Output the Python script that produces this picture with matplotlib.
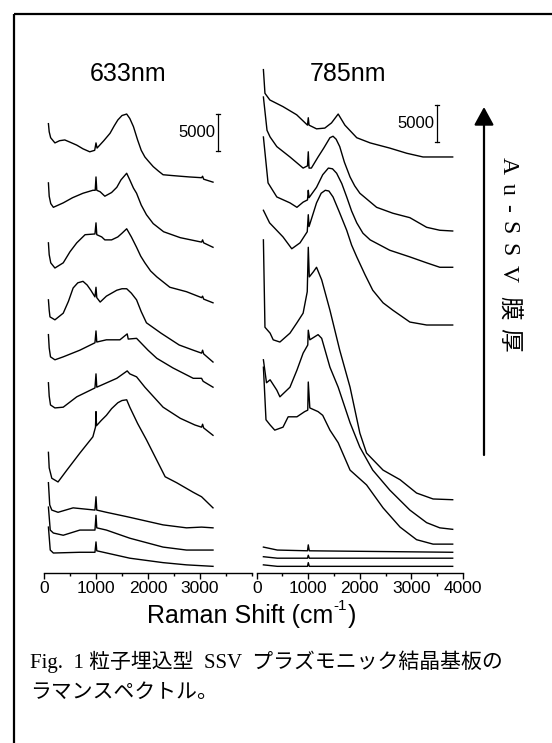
import matplotlib
matplotlib.use("Agg")
import matplotlib.pyplot as plt

plt.rcParams['font.family'] = ['Liberation Sans', 'DejaVu Sans']
plt.rcParams['mathtext.default'] = 'regular'

# ---------------- data (Raman shift in cm-1, intensity in kcounts incl. stacking offset) -------------
titles = ["633nm", "785nm"]
x_label_parts = ["Raman Shift (cm", "-1", ")"]
ticks_633 = [0, 1000, 2000, 3000]
ticks_785 = [0, 1000, 2000, 3000, 4000]
scale_label = "5000"

shift_633 = [
    [85, 100, 128, 210, 300, 400, 500, 630, 750, 880, 975, 1000, 1020, 1150, 1270, 1350, 1420, 1500, 1590, 1650, 1720, 1800, 1870, 1940, 2000, 2100, 2200, 2290, 2450, 2620, 2800, 3030, 3050, 3070, 3250],
    [85, 100, 130, 180, 370, 550, 750, 940, 985, 1000, 1015, 1080, 1170, 1300, 1400, 1480, 1590, 1650, 1720, 1780, 1870, 1970, 2100, 2300, 2620, 3030, 3050, 3070, 3250],
    [85, 100, 130, 210, 370, 500, 630, 790, 980, 1000, 1015, 1110, 1170, 1300, 1420, 1500, 1590, 1680, 1780, 1860, 1940, 2050, 2170, 2420, 2740, 3030, 3050, 3070, 3250],
    [85, 100, 115, 210, 370, 470, 560, 650, 750, 830, 900, 980, 1000, 1015, 1080, 1200, 1400, 1500, 1590, 1680, 1780, 1870, 1970, 2250, 2600, 2870, 3030, 3050, 3070, 3250],
    [85, 100, 125, 210, 370, 690, 980, 1000, 1015, 1200, 1460, 1600, 1620, 1780, 2000, 2170, 2480, 2870, 3030, 3060, 3250],
    [85, 100, 125, 210, 370, 630, 980, 1000, 1015, 1400, 1600, 1650, 1780, 1940, 2290, 2620, 2900, 3030, 3050, 3070, 3250],
    [85, 100, 150, 270, 440, 690, 940, 990, 1000, 1010, 1100, 1200, 1300, 1420, 1500, 1590, 1650, 1800, 1970, 2150, 2330, 2550, 2870, 3030, 3250],
    [85, 110, 150, 270, 560, 980, 1000, 1015, 1200, 1600, 2290, 2740, 3030, 3250],
    [85, 120, 180, 370, 690, 980, 1000, 1015, 1200, 1650, 2290, 2740, 3250],
    [85, 120, 180, 690, 980, 1000, 1015, 1650, 2290, 2740, 3250],
]
int_633 = [
    [60.7, 59.6, 58.8, 58.1, 58.4, 58.5, 58.2, 57.8, 57.3, 56.9, 57.1, 58.1, 57.4, 58.4, 59.4, 60.4, 61.2, 61.8, 62.0, 61.4, 60.3, 58.5, 57.1, 56.2, 55.7, 54.9, 54.3, 53.8, 53.7, 53.6, 53.5, 53.4, 53.6, 53.2, 52.8],
    [52.7, 50.9, 49.9, 49.4, 50.0, 50.7, 51.3, 51.7, 51.7, 53.5, 51.7, 51.5, 50.9, 51.4, 52.1, 53.1, 54.0, 53.1, 52.0, 51.3, 49.7, 48.4, 47.2, 46.1, 45.3, 44.7, 45.0, 44.6, 44.0],
    [44.6, 43.0, 41.9, 41.2, 41.9, 43.4, 44.6, 45.7, 45.8, 47.3, 45.7, 45.4, 45.0, 45.0, 45.4, 45.9, 46.5, 45.4, 44.0, 42.8, 41.9, 40.8, 40.0, 38.6, 38.0, 37.2, 37.4, 37.0, 36.5],
    [36.9, 35.5, 34.6, 34.2, 35.1, 36.7, 38.5, 39.2, 39.4, 38.9, 38.2, 37.3, 38.6, 37.2, 36.6, 37.4, 38.2, 38.4, 38.4, 37.8, 36.9, 35.3, 33.8, 32.4, 30.8, 30.1, 29.7, 30.1, 29.6, 28.5],
    [32.2, 30.4, 29.2, 28.8, 29.2, 30.1, 31.1, 32.7, 31.2, 31.5, 31.5, 32.3, 31.6, 31.7, 30.1, 29.0, 27.7, 26.3, 26.3, 25.9, 25.1],
    [25.7, 23.9, 22.7, 22.3, 22.4, 23.8, 25.0, 26.9, 25.1, 26.3, 27.3, 26.9, 26.5, 25.1, 22.4, 20.9, 20.0, 19.7, 20.1, 19.6, 18.6],
    [16.3, 14.2, 12.8, 12.3, 13.9, 16.2, 18.4, 19.7, 21.8, 19.9, 20.6, 21.3, 22.2, 23.0, 23.3, 23.4, 22.4, 20.2, 18.0, 15.5, 13.0, 12.2, 10.9, 10.3, 8.8],
    [12.2, 9.2, 8.5, 8.2, 8.8, 8.5, 10.3, 8.5, 8.2, 7.6, 6.5, 6.1, 6.2, 6.1],
    [8.9, 5.8, 5.4, 5.1, 5.8, 5.8, 7.8, 6.1, 5.8, 4.7, 3.5, 3.1, 3.1],
    [6.2, 3.1, 2.7, 2.8, 2.8, 4.2, 3.0, 2.0, 1.4, 1.1, 0.9],
]

shift_785 = [
    [130, 160, 255, 510, 775, 985, 1000, 1015, 1160, 1320, 1450, 1580, 1710, 1940, 2200, 2580, 2910, 3225, 3800],
    [130, 200, 260, 390, 645, 900, 985, 1000, 1015, 1060, 1190, 1300, 1360, 1420, 1480, 1540, 1610, 1700, 1810, 1900, 2000, 2325, 2640, 2970, 3295, 3550, 3800],
    [130, 220, 390, 645, 780, 900, 985, 1000, 1015, 1160, 1280, 1390, 1470, 1550, 1650, 1745, 1840, 1940, 2060, 2200, 2580, 2970, 3295, 3550, 3800],
    [130, 250, 510, 680, 840, 980, 1000, 1015, 1160, 1250, 1330, 1400, 1480, 1600, 1745, 1840, 1940, 2100, 2250, 2450, 2640, 2970, 3295, 3800],
    [130, 160, 260, 320, 450, 645, 780, 900, 980, 1000, 1020, 1100, 1160, 1260, 1420, 1610, 1810, 2000, 2130, 2450, 2780, 3100, 3420, 3800],
    [130, 190, 260, 390, 450, 645, 780, 900, 990, 1000, 1030, 1190, 1260, 1420, 1580, 1810, 2000, 2250, 2580, 2970, 3295, 3550, 3800],
    [130, 180, 260, 350, 510, 610, 780, 930, 990, 1000, 1030, 1190, 1280, 1420, 1580, 1810, 2130, 2450, 2780, 3100, 3420, 3800],
    [130, 400, 985, 1000, 1020, 3800],
    [130, 400, 985, 1000, 1020, 3800],
    [130, 400, 985, 1000, 1020, 3800],
]
int_785 = [
    [68.0, 64.8, 63.9, 63.0, 61.9, 60.5, 61.5, 60.5, 60.0, 60.1, 60.8, 62.0, 60.5, 58.8, 58.1, 57.4, 56.7, 56.2, 56.2],
    [64.3, 59.8, 58.9, 57.6, 56.2, 54.7, 55.0, 56.9, 54.7, 54.7, 56.2, 57.4, 58.1, 58.8, 59.0, 58.6, 57.6, 55.5, 53.5, 52.3, 51.3, 49.4, 48.6, 48.0, 46.7, 46.3, 46.2],
    [58.9, 52.7, 50.8, 50.0, 49.4, 50.1, 50.4, 51.7, 50.7, 52.1, 53.8, 54.7, 54.6, 54.0, 52.6, 50.8, 48.9, 47.3, 45.9, 45.0, 43.6, 42.7, 41.9, 41.3, 41.3],
    [49.0, 47.3, 45.4, 43.8, 44.6, 46.1, 48.4, 46.8, 50.0, 51.3, 51.7, 51.6, 50.8, 48.8, 46.3, 44.3, 42.7, 40.3, 38.2, 36.5, 35.5, 33.9, 33.5, 33.5],
    [45.0, 33.2, 32.4, 31.5, 31.2, 32.4, 33.8, 35.1, 38.0, 44.0, 40.0, 40.7, 41.3, 39.6, 35.5, 30.1, 25.1, 18.9, 16.2, 13.9, 12.6, 10.8, 10.0, 9.9],
    [28.8, 25.7, 26.1, 24.7, 23.8, 25.1, 27.4, 29.7, 30.8, 32.8, 31.5, 32.2, 31.7, 27.8, 25.1, 20.3, 17.0, 13.9, 11.2, 8.5, 6.8, 6.1, 5.9],
    [27.8, 20.7, 20.0, 19.3, 19.7, 21.1, 21.1, 21.8, 22.0, 25.8, 22.3, 21.8, 21.3, 19.3, 17.6, 13.9, 11.9, 8.8, 6.2, 4.5, 3.9, 3.9],
    [3.5, 3.1, 3.0, 3.8, 3.0, 2.8],
    [2.2, 2.0, 2.0, 2.4, 2.0, 2.0],
    [1.1, 0.9, 0.9, 1.4, 0.9, 0.9],
]

arrow_label_chars = ["A", "u", "-", "S", "S", "V", "膜", "厚"]
caption_lines = ["Fig.  1 粒子埋込型  SSV  プラズモニック結晶基板の", "ラマンスペクトル。"]

# ---------------- figure ----------------
W, H = 552, 743
fig = plt.figure(figsize=(W / 100, H / 100), dpi=100)
fig.patch.set_facecolor('white')

ov = fig.add_axes([0, 0, 1, 1])
ov.set_xlim(0, W)
ov.set_ylim(H, 0)
ov.axis('off')

YMAX = 69.3
bottom = (H - 573) / H
height = 513 / H
panels = [
    (44, 208, shift_633, int_633, ticks_633, (3346, 57.0, 62.0)),
    (256.7, 206.3, shift_785, int_785, ticks_785, (3494, 58.2, 63.2)),
]
for left_px, width_px, xs, ys, ticks, sb in panels:
    ax = fig.add_axes([left_px / W, bottom, width_px / W, height])
    ax.patch.set_alpha(0)
    for x, y in zip(xs, ys):
        ax.plot(x, y, color='black', lw=1.0, solid_joinstyle='round')
    ax.set_xlim(0, 4000)
    ax.set_ylim(0, YMAX)
    for s in ['top', 'right', 'left']:
        ax.spines[s].set_visible(False)
    ax.spines['bottom'].set_linewidth(1.0)
    ax.set_yticks([])
    ax.set_xticks(ticks)
    ax.set_xticks([500, 1500, 2500, 3500, 4000] if len(ticks) == 4 else [500, 1500, 2500, 3500], minor=True)
    ax.tick_params(axis='x', which='major', length=4, width=1.0, labelsize=12.5, pad=2)
    ax.tick_params(axis='x', which='minor', length=2.5, width=1.0)
    xb, y0, y1 = sb
    ax.plot([xb, xb], [y0, y1], color='black', lw=0.9, clip_on=False)
    ax.plot([xb - 35, xb + 35], [y0, y0], color='black', lw=0.9, clip_on=False)
    ax.plot([xb - 35, xb + 35], [y1, y1], color='black', lw=0.9, clip_on=False)
    ax.text(xb - 50, (y0 + y1) / 2, scale_label, ha='right', va='center', fontsize=12)

ov.text(128, 74, titles[0], ha='center', va='center', fontsize=18)
ov.text(348, 74, titles[1], ha='center', va='center', fontsize=18)

# x label with a small hyphen superscript
renderer = fig.canvas.get_renderer()
parts = [ov.text(0, 616, x_label_parts[0], ha='left', va='center', fontsize=18),
         ov.text(0, 606, x_label_parts[1], ha='left', va='center', fontsize=11),
         ov.text(0, 616, x_label_parts[2], ha='left', va='center', fontsize=18)]
widths = [p.get_window_extent(renderer).width for p in parts]
total = sum(widths) + 1
xcur = 252 - total / 2
for p, w in zip(parts, widths):
    p.set_x(xcur)
    xcur += w + (1 if p is parts[1] else 0)

# arrow
ov.annotate('', xy=(484, 107), xytext=(484, 455),
            arrowprops=dict(arrowstyle='-|>,head_length=0.55,head_width=0.3',
                            lw=1.6, color='black', mutation_scale=20, shrinkA=0, shrinkB=0))
char_y = [165.5, 189, 208, 227.5, 249.5, 273.5, 308, 340]
for ch, cy in zip(arrow_label_chars, char_y):
    ov.text(508, cy, ch, rotation=-90, ha='center', va='center',
            fontsize=17, family=['Liberation Serif', 'Noto Sans CJK JP'])

# caption
ov.text(30, 662, caption_lines[0], ha='left', va='center', fontsize=15,
        family=['Liberation Serif', 'Noto Sans CJK JP'])
ov.text(30, 693, caption_lines[1], ha='left', va='center', fontsize=15,
        family=['Liberation Serif', 'Noto Sans CJK JP'])

# frame lines (top and left)
ov.plot([13.5, W], [13.5, 13.5], color='black', lw=1.6, solid_capstyle='butt')
ov.plot([13.5, 13.5], [13.5, H], color='black', lw=1.6, solid_capstyle='butt')

fig.savefig('out.png', dpi=100, facecolor='white')
